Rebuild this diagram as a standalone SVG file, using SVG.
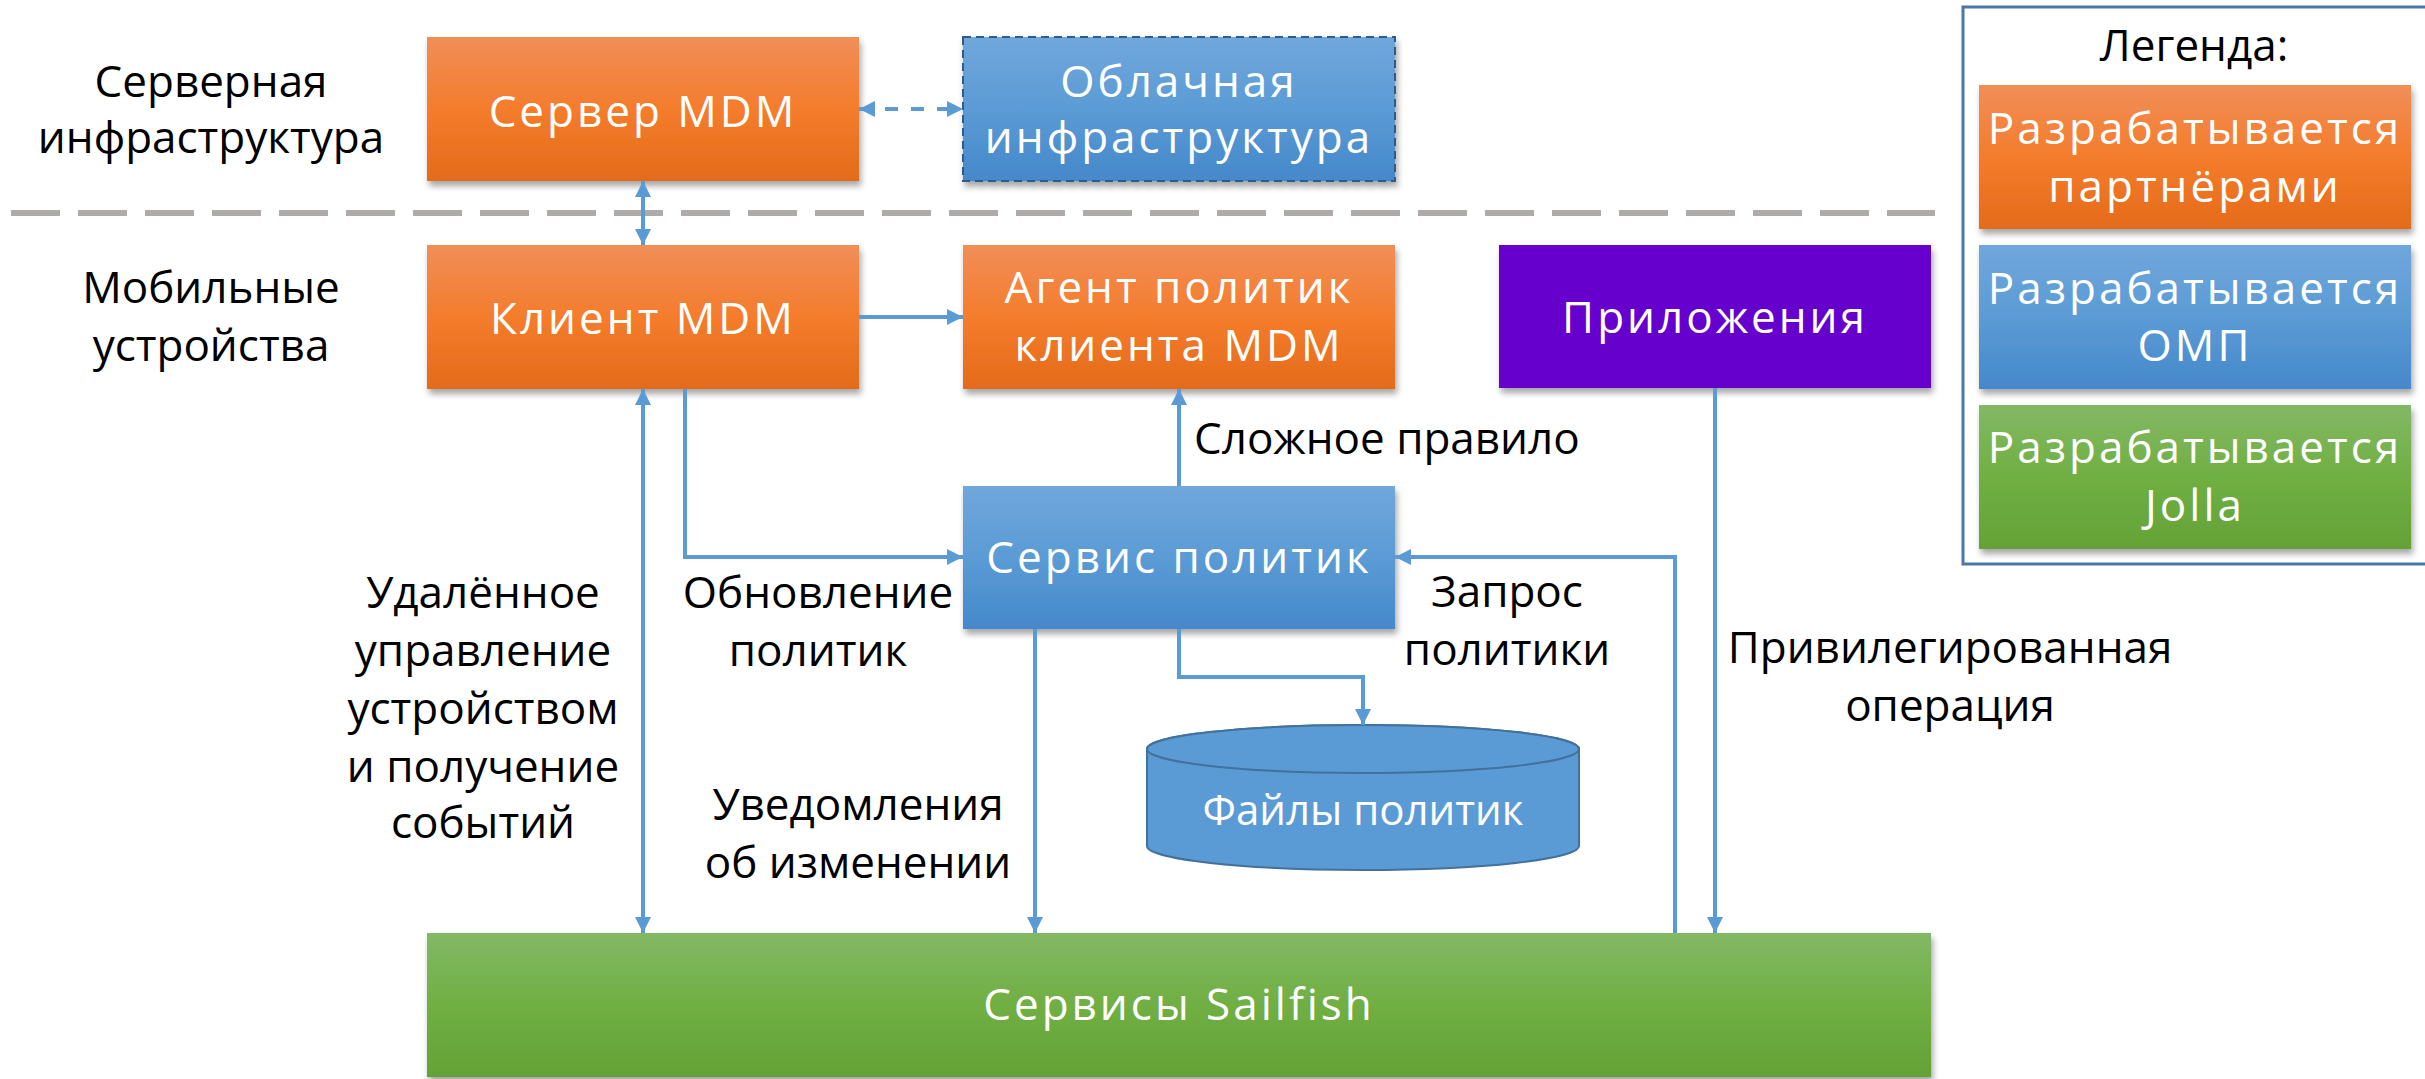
<svg xmlns="http://www.w3.org/2000/svg" width="2425" height="1079" viewBox="0 0 2425 1079">
<style>
.lbl{font-family:"Open Sans","Noto Sans",sans-serif;font-size:44px;fill:#000;text-anchor:middle}
.bt{font-family:"Open Sans","Noto Sans",sans-serif;font-size:44px;fill:#fff;text-anchor:middle;letter-spacing:3px}
.conn{fill:none;stroke:#5B9BD5;stroke-width:4}
</style>
<defs>
<linearGradient id="gOr" x1="0" y1="0" x2="0" y2="1"><stop offset="0" stop-color="#F18E58"/><stop offset="0.5" stop-color="#F47C2C"/><stop offset="1" stop-color="#E46B19"/></linearGradient>
<linearGradient id="gBl" x1="0" y1="0" x2="0" y2="1"><stop offset="0" stop-color="#70A7DC"/><stop offset="0.5" stop-color="#5B9BD5"/><stop offset="1" stop-color="#4588CA"/></linearGradient>
<linearGradient id="gGr" x1="0" y1="0" x2="0" y2="1"><stop offset="0" stop-color="#83B865"/><stop offset="0.5" stop-color="#70AF43"/><stop offset="1" stop-color="#64A236"/></linearGradient>
<filter id="sh" x="-10%" y="-10%" width="120%" height="130%"><feDropShadow dx="2" dy="5" stdDeviation="3" flood-color="#000" flood-opacity="0.35"/></filter>
<marker id="ah" viewBox="0 0 16 16" markerUnits="userSpaceOnUse" markerWidth="16" markerHeight="16" refX="16" refY="8" orient="auto-start-reverse"><path d="M0,0 L16,8 L0,16 z" fill="#5B9BD5"/></marker>
</defs>

<line x1="11" y1="213" x2="1935" y2="213" stroke="#AEAAAA" stroke-width="6" stroke-dasharray="49 18"/>

<g id="label-server"><text class="lbl" x="211" y="97">Серверная</text><text class="lbl" x="211" y="153">инфраструктура</text></g>
<g id="label-mobile"><text class="lbl" x="211" y="303">Мобильные</text><text class="lbl" x="211" y="361">устройства</text></g>

<g id="legend">
<rect x="1963" y="7" width="470" height="557" fill="none" stroke="#4A76A8" stroke-width="3"/>
<text class="lbl" x="2194" y="61">Легенда:</text>
<rect x="1979" y="85" width="432" height="144" fill="url(#gOr)" filter="url(#sh)"/>
<text class="bt" x="2195" y="144">Разрабатывается</text><text class="bt" x="2195" y="202">партнёрами</text>
<rect x="1979" y="245" width="432" height="144" fill="url(#gBl)" filter="url(#sh)"/>
<text class="bt" x="2195" y="304">Разрабатывается</text><text class="bt" x="2195" y="361">ОМП</text>
<rect x="1979" y="405" width="432" height="144" fill="url(#gGr)" filter="url(#sh)"/>
<text class="bt" x="2195" y="463">Разрабатывается</text><text class="bt" x="2195" y="521">Jolla</text>
</g>

<g id="server-mdm"><rect x="427" y="37" width="432" height="144" fill="url(#gOr)" filter="url(#sh)"/><text class="bt" x="643" y="127">Сервер MDM</text></g>
<g id="cloud"><rect x="963" y="37" width="432" height="144" fill="url(#gBl)" stroke="#2F5B88" stroke-width="2" stroke-dasharray="8 5" filter="url(#sh)"/><text class="bt" x="1179" y="97">Облачная</text><text class="bt" x="1179" y="153">инфраструктура</text></g>
<g id="client-mdm"><rect x="427" y="245" width="432" height="144" fill="url(#gOr)" filter="url(#sh)"/><text class="bt" x="643" y="334">Клиент MDM</text></g>
<g id="agent"><rect x="963" y="245" width="432" height="144" fill="url(#gOr)" filter="url(#sh)"/><text class="bt" x="1179" y="303">Агент политик</text><text class="bt" x="1179" y="361">клиента MDM</text></g>
<g id="apps"><rect x="1499" y="245" width="432" height="143" fill="#6600CC" filter="url(#sh)"/><text class="bt" x="1715" y="333">Приложения</text></g>
<g id="policy-service"><rect x="963" y="486" width="432" height="143" fill="url(#gBl)" filter="url(#sh)"/><text class="bt" x="1179" y="573">Сервис политик</text></g>
<g id="policy-files">
<path d="M1147,749 L1147,846 A216,24 0 0 0 1579,846 L1579,749 A216,24 0 0 0 1147,749 Z" fill="#5B9BD5" stroke="#41719C" stroke-width="2"/>
<ellipse cx="1363" cy="749" rx="216" ry="24" fill="#5B9BD5" stroke="#41719C" stroke-width="2"/>
<text class="lbl" x="1363" y="825" style="fill:#fff;font-size:42px">Файлы политик</text>
</g>
<g id="sailfish"><rect x="427" y="933" width="1504" height="144" fill="url(#gGr)" filter="url(#sh)"/><text class="bt" x="1179" y="1020">Сервисы Sailfish</text></g>

<g id="connectors">
<line class="conn" x1="643" y1="181" x2="643" y2="245" marker-start="url(#ah)" marker-end="url(#ah)"/>
<line class="conn" x1="859" y1="109" x2="963" y2="109" stroke-dasharray="13 13" marker-start="url(#ah)" marker-end="url(#ah)"/>
<line class="conn" x1="859" y1="317" x2="963" y2="317" marker-end="url(#ah)"/>
<polyline class="conn" points="685,389 685,557 963,557" marker-end="url(#ah)"/>
<line class="conn" x1="643" y1="389" x2="643" y2="933" marker-start="url(#ah)" marker-end="url(#ah)"/>
<line class="conn" x1="1179" y1="486" x2="1179" y2="389" marker-end="url(#ah)"/>
<polyline class="conn" points="1179,629 1179,677 1363,677 1363,725" marker-end="url(#ah)"/>
<line class="conn" x1="1035" y1="629" x2="1035" y2="933" marker-end="url(#ah)"/>
<polyline class="conn" points="1675,933 1675,557 1395,557" marker-end="url(#ah)"/>
<line class="conn" x1="1715" y1="388" x2="1715" y2="933" marker-end="url(#ah)"/>
</g>

<g id="edge-labels">
<text class="lbl" x="483" y="608">Удалённое</text>
<text class="lbl" x="483" y="666">управление</text>
<text class="lbl" x="483" y="724">устройством</text>
<text class="lbl" x="483" y="782">и получение</text>
<text class="lbl" x="483" y="838">событий</text>
<text class="lbl" x="818" y="608">Обновление</text>
<text class="lbl" x="818" y="666">политик</text>
<text class="lbl" x="858" y="820">Уведомления</text>
<text class="lbl" x="858" y="878">об изменении</text>
<text class="lbl" x="1194" y="454" style="text-anchor:start">Сложное правило</text>
<text class="lbl" x="1507" y="607">Запрос</text>
<text class="lbl" x="1507" y="665">политики</text>
<text class="lbl" x="1950" y="663">Привилегированная</text>
<text class="lbl" x="1950" y="721">операция</text>
</g>
</svg>
